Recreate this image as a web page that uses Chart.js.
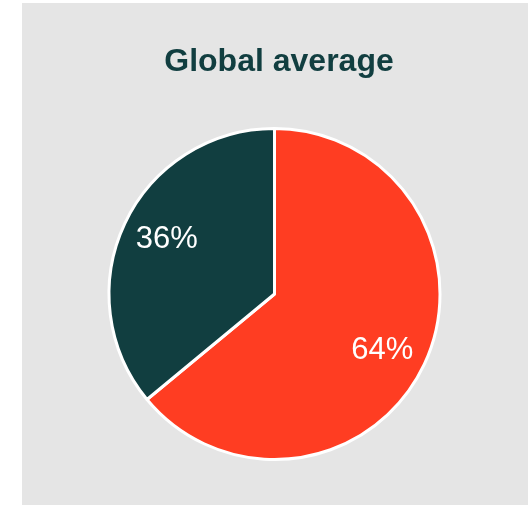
<!DOCTYPE html>
<html>
<head>
<meta charset="utf-8">
<script src="https://cdn.jsdelivr.net/npm/chart.js@4"></script>
<style>
  body { margin: 0; background: #fff; }
  #panel { position: absolute; left: 22px; top: 3px; width: 506px; height: 502px; background: #e5e5e5; }
  #wrap { position: absolute; left: 0; top: 0; width: 528px; height: 505px; }
</style>
</head>
<body>
<div id="panel"></div>
<div id="wrap"><canvas id="pieChart" width="528" height="505"></canvas></div>
<script>
const chartTitle = "Global average";
const categories = ["Share A", "Share B"];
const shares = [64, 36];
const sliceColors = ["#ff3d22", "#113e40"];

// draws the title and the percent labels inside slices
const labelPlugin = {
  id: "sliceLabels",
  afterDatasetsDraw(chart) {
    const ctx = chart.ctx;
    ctx.save();
    ctx.fillStyle = "#113e40";
    ctx.font = "bold 32px 'Liberation Sans', Arial, sans-serif";
    ctx.textAlign = "center";
    ctx.textBaseline = "middle";
    ctx.fillText(chartTitle, 279, 62);

    ctx.fillStyle = "#ffffff";
    ctx.font = "31px 'Liberation Sans', Arial, sans-serif";
    const meta = chart.getDatasetMeta(0);
    meta.data.forEach((arc, i) => {
      const mid = (arc.startAngle + arc.endAngle) / 2;
      const r = arc.outerRadius * 0.72;
      const x = arc.x + Math.cos(mid) * r;
      const y = arc.y + Math.sin(mid) * r * 1.1;
      ctx.fillText(shares[i] + "%", x, y + 1);
    });
    ctx.restore();
  },
};

const ctx = document.getElementById("pieChart").getContext("2d");
new Chart(ctx, {
  type: "pie",
  data: {
    labels: categories,
    datasets: [
      {
        data: shares,
        backgroundColor: sliceColors,
        borderColor: "#ffffff",
        borderWidth: 3,
      },
    ],
  },
  options: {
    responsive: false,
    animation: false,
    radius: 165.5,
    layout: { padding: { left: 101, right: 80, top: 120, bottom: 37 } },
    plugins: {
      legend: { display: false },
      tooltip: { enabled: false },
      title: { display: false },
    },
  },
  plugins: [labelPlugin],
});
</script>
</body>
</html>
